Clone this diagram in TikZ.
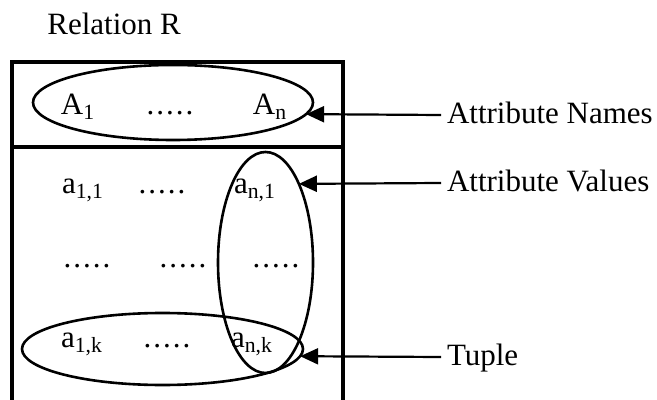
\documentclass[tikz,border=0pt]{standalone}
\usepackage{fontspec}
\setmainfont{Liberation Serif}
\usetikzlibrary{arrows.meta,shapes.geometric}

\newcommand{\fivedots}{.\kern1pt.\kern1pt.\kern1pt.\kern1pt.}

\begin{document}
\begin{tikzpicture}[
  x=0.5pt, y=-0.5pt,
  font=\fontsize{15.5}{18}\selectfont,
  >={Triangle[length=9pt,width=8pt]},
  frame/.style={draw=black, line width=1.6pt, inner sep=0pt},
  ring/.style={draw=black, ellipse, line width=1.3pt, inner sep=0pt, outer sep=0pt},
  cell/.style={anchor=base, inner sep=0pt},
  tag/.style={anchor=west, inner sep=3pt, outer sep=0pt, text height=10pt, text depth=1.5pt},
  arrow/.style={->, line width=1.1pt}
]
  \useasboundingbox (0,0) rectangle (657,400);

  \node[anchor=base west, inner sep=0pt] (title) at (47,35) {Relation R};

  \node[frame, minimum width=165.5pt, minimum height=171pt] (rel) at (177.5,233) {};
  \coordinate (split) at (0,147);
  \draw[frame] (rel.west |- split) -- (rel.east |- split);

  \node[cell] (A1) at (78,115) {A\textsubscript{1}};
  \node[cell] (Adots) at (170,115) {\fivedots};
  \node[cell] (An) at (270,115) {A\textsubscript{n}};

  \node[cell] (a11) at (83,194) {a\textsubscript{1,1}};
  \node[cell] (dots1) at (162,194) {\fivedots};
  \node[cell] (an1) at (255,194) {a\textsubscript{n,1}};

  \node[cell] (mid1) at (87,268) {\fivedots};
  \node[cell] (mid2) at (183,268) {\fivedots};
  \node[cell] (mid3) at (276,268) {\fivedots};

  \node[cell] (a1k) at (82,347) {a\textsubscript{1,k}};
  \node[cell] (dotsk) at (167,347) {\fivedots};
  \node[cell] (ank) at (252,347) {a\textsubscript{n,k}};

  \node[ring, minimum width=140pt, minimum height=37.5pt] (topring) at (173,102.5) {};
  \node[ring, minimum width=47.5pt, minimum height=110.5pt] (colring) at (265.5,262.5) {};
  \node[ring, minimum width=140.5pt, minimum height=36pt] (rowring) at (162.5,349) {};

  \node[tag] (names) at (441,115) {Attribute Names};
  \node[tag] (values) at (441,183) {Attribute Values};
  \node[tag] (tuple) at (441,357) {Tuple};

  \draw[arrow] (names.west) -- (topring.-5.4);
  \draw[arrow] (values.west) -- (colring.67.5);
  \draw[arrow] (tuple.west) -- (rowring.-3.3);
\end{tikzpicture}
\end{document}
